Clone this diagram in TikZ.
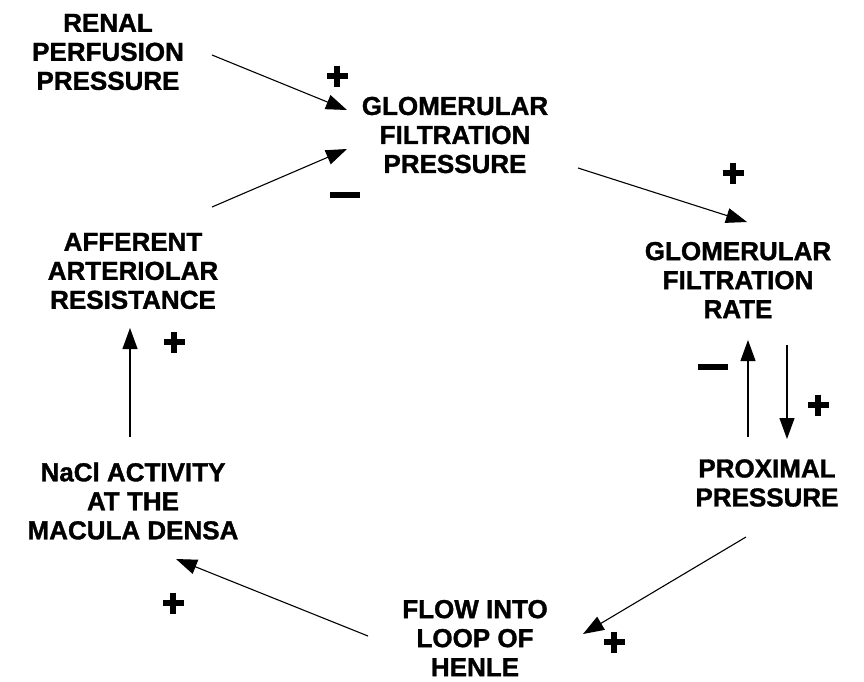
\documentclass[tikz,border=0pt]{standalone}
\usepackage{fontspec}
\setmainfont{Liberation Sans}[BoldFeatures={FakeBold=1.3}]
\usetikzlibrary{arrows.meta}
\begin{document}
\begin{tikzpicture}[x=1pt,y=-1pt,
  lbl/.style={font=\bfseries\fontsize{26}{29}\selectfont,align=center,inner sep=0pt},
  arr/.style={line width=1.1pt,-{Triangle[length=21pt,width=15pt]}},
  sgn/.style={line width=6.5pt},
  plus/.pic={\draw[sgn] (-10.5,0) -- (10.5,0); \draw[sgn] (0,-10.5) -- (0,10.5);},
  minus/.pic={\draw[sgn] (-15,0) -- (15,0);}]
\useasboundingbox (0,0) rectangle (864,681);
% nodes
\node[lbl] (rpp) at (108,52) {RENAL\\PERFUSION\\PRESSURE};
\node[lbl] (gfp) at (455,135) {GLOMERULAR\\FILTRATION\\PRESSURE};
\node[lbl] (gfr) at (738,280) {GLOMERULAR\\FILTRATION\\RATE};
\node[lbl] (pp) at (767,483) {PROXIMAL\\PRESSURE};
\node[lbl] (flow) at (475,638) {FLOW INTO\\LOOP OF\\HENLE};
\node[lbl] (nacl) at (133,501) {NaCl ACTIVITY\\AT THE\\MACULA DENSA};
\node[lbl] (aar) at (133,271) {AFFERENT\\ARTERIOLAR\\RESISTANCE};
% connector end points
\coordinate (rppE) at (212,55);   \coordinate (gfpA) at (347,110);
\coordinate (aarE) at (212,207);  \coordinate (gfpB) at (347,149);
\coordinate (gfpE) at (578,168);  \coordinate (gfrA) at (747,222);
\coordinate (gfrD) at (787,345);  \coordinate (ppA) at (787,439);
\coordinate (ppU) at (748,437);   \coordinate (gfrU) at (748,340);
\coordinate (ppE) at (746,537);   \coordinate (flowA) at (583,634);
\coordinate (flowE) at (368,636); \coordinate (naclA) at (176,559);
\coordinate (naclU) at (130,437); \coordinate (aarA) at (130,328);
% connectors
\draw[arr] (rppE) -- (gfpA);
\draw[arr] (aarE) -- (gfpB);
\draw[arr] (gfpE) -- (gfrA);
\draw[arr] (gfrD) -- (ppA);
\draw[arr] (ppU) -- (gfrU);
\draw[arr] (ppE) -- (flowA);
\draw[arr] (flowE) -- (naclA);
\draw[arr] (naclU) -- (aarA);
% signs
\pic at (337,76) {plus};
\pic at (345,195) {minus};
\pic at (733,173) {plus};
\pic at (713,367) {minus};
\pic at (818,405) {plus};
\pic at (614,642) {plus};
\pic at (173,603) {plus};
\pic at (174,342) {plus};
\end{tikzpicture}
\end{document}
